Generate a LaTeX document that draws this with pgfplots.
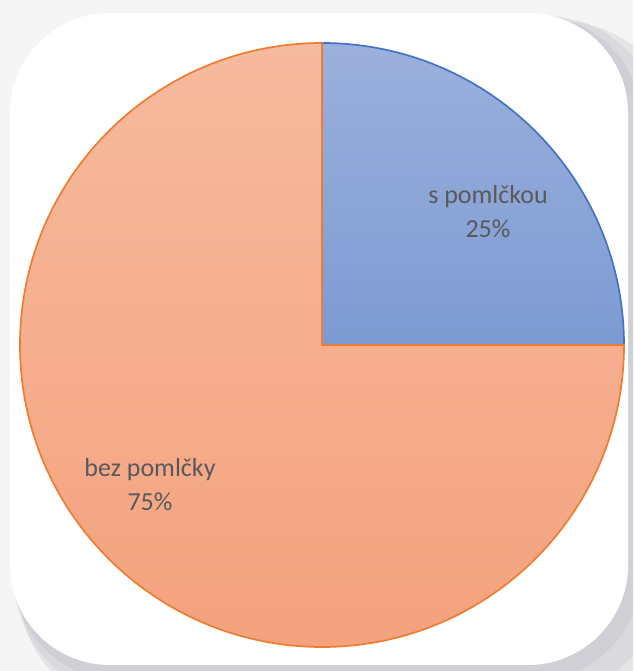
\documentclass[border=0pt]{standalone}
\usepackage{pgfplots}
\pgfplotsset{compat=1.18}
\usepackage{pgfplotstable}
\usepackage{fontspec}
\setmainfont{Carlito}
\definecolor{bgA}{HTML}{F5F5F5}
\definecolor{shad}{HTML}{B8B8C2}
\definecolor{blueedge}{HTML}{4472C4}
\definecolor{bluetop}{HTML}{9BB0DC}
\definecolor{bluebot}{HTML}{7D9BD3}
\definecolor{orangeedge}{HTML}{ED7D31}
\definecolor{orangetop}{HTML}{F6BA9E}
\definecolor{orangebot}{HTML}{F4A27E}
\definecolor{lbl}{HTML}{595959}
\pgfplotstableread{
label value
spomlckou 25
bezpomlcky 75
}\piedata
\begin{document}
\begin{tikzpicture}
\pgfplotstablegetelem{0}{value}\of\piedata \let\va\pgfplotsretval
\pgfplotstablegetelem{1}{value}\of\piedata \let\vb\pgfplotsretval
\pgfmathsetmacro{\angA}{\va/(\va+\vb)*360}
\begin{axis}[hide axis, x=1pt, y=1pt, xmin=0, xmax=633, ymin=0, ymax=671,
  scale only axis, clip=false]
  % background and card
  \fill[bgA] (axis cs:0,0) rectangle (axis cs:633,671);
  \begin{scope}
    \clip (axis cs:0,0) rectangle (axis cs:633,671);
    \fill[shad, opacity=0.25, rounded corners=120pt, overlay] (axis cs:20,-40) rectangle (axis cs:680,650);
    \fill[shad, opacity=0.25, rounded corners=115pt, overlay] (axis cs:15,-25) rectangle (axis cs:660,655);
    \fill[shad, opacity=0.3, rounded corners=110pt, overlay] (axis cs:12,-10) rectangle (axis cs:642,657);
  \end{scope}
  \fill[white, rounded corners=100pt] (axis cs:10,6) rectangle (axis cs:628,658);
  % blue slice (first value), counterclockwise from 0 deg
  \path[top color=bluetop, bottom color=bluebot, draw=blueedge, line width=1.7pt, line join=round]
    (axis cs:322,326) -- ++(0:302pt) arc[start angle=0, end angle=\angA, radius=302pt] -- cycle;
  % orange slice
  \path[top color=orangetop, bottom color=orangebot, draw=orangeedge, line width=1.7pt, line join=round]
    (axis cs:322,326) -- ++(\angA:302pt) arc[start angle=\angA, end angle=360, radius=302pt] -- cycle;
  \node[lbl, align=center, font=\fontsize{26}{34}\selectfont] at (axis cs:488,459)
    {s pomlčkou\\25\%};
  \node[lbl, align=center, font=\fontsize{26}{34}\selectfont] at (axis cs:150,186)
    {bez pomlčky\\75\%};
\end{axis}
\end{tikzpicture}
\end{document}
